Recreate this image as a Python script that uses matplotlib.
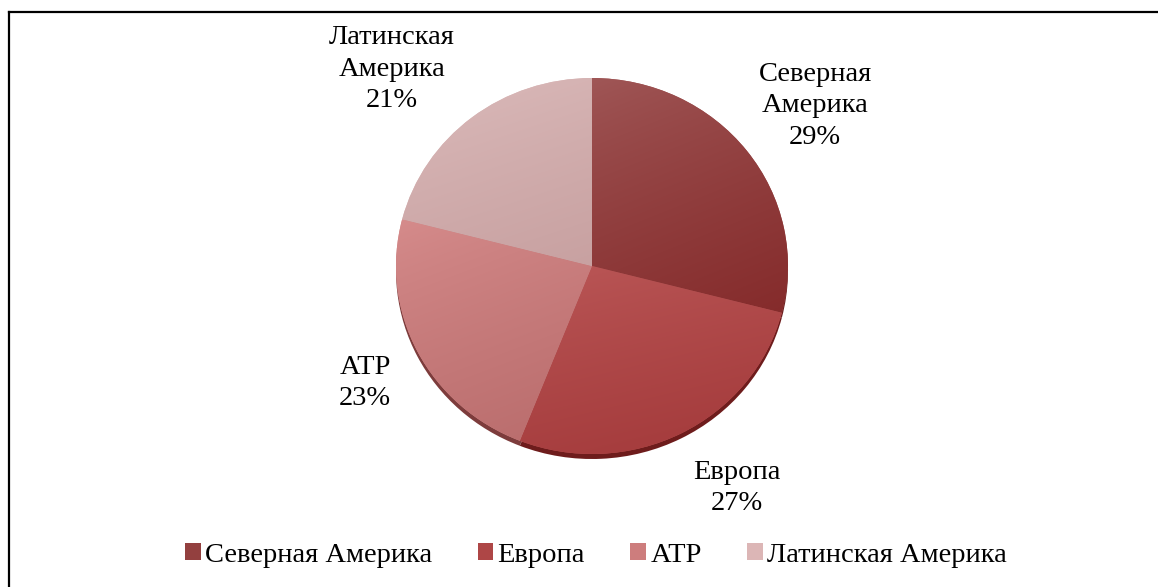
import numpy as np
import matplotlib
matplotlib.use("Agg")
import matplotlib.pyplot as plt
from matplotlib.patches import Patch
from matplotlib.lines import Line2D

# Regional shares
regions = ["Северная Америка", "Европа", "АТР", "Латинская Америка"]
shares = [29, 27, 23, 21]

# Fill colours: lighter (top-left) and darker (bottom-right) tones per region
light_tones = ["#a05757", "#bb5858", "#d68c8c", "#dcbcbc"]
dark_tones = ["#852b2b", "#a3393a", "#b96c6c", "#c8a1a1"]
rim_tones = ["#6c1f1f", "#6e1c1c", "#7d3c3c", "#8a5a5a"]
legend_tones = ["#93403f", "#ae4646", "#cd7d7d", "#dcb6b6"]

W, H, DPI = 1158, 587, 100
FS = 20.5
plt.rcParams["font.family"] = ["Liberation Serif", "DejaVu Serif"]

fig = plt.figure(figsize=(W / DPI, H / DPI), dpi=DPI)
ax = fig.add_axes([0, 0, 1, 1])

# Pie geometry in pixels (slightly flattened ellipse)
cx, cy = 592, 266
rx, ry = 196, 188

# Side rim: same slices shifted downward, drawn underneath
rim, _ = ax.pie(shares, startangle=90, counterclock=False, radius=1,
                center=(0, -5 / ry), colors=rim_tones,
                wedgeprops=dict(linewidth=0))
for w in rim:
    w.set_zorder(1)

wedges, _ = ax.pie(shares, startangle=90, counterclock=False, radius=1,
                   center=(0, 0), colors=light_tones,
                   wedgeprops=dict(linewidth=0))

ax.set_aspect("auto")
ax.axis("off")

# Gradient fill for each slice, clipped to its wedge
for w, c0, c1 in zip(wedges, light_tones, dark_tones):
    w.set_zorder(2)
    ext = w.get_path().get_extents()
    n = 200
    yy, xx = np.mgrid[0:1:n * 1j, 0:1:n * 1j]
    t = np.clip(0.75 * yy + 0.25 * xx, 0, 1) ** 0.8
    a = np.array(matplotlib.colors.to_rgb(c0))
    b = np.array(matplotlib.colors.to_rgb(c1))
    img = a[None, None, :] * (1 - t[..., None]) + b[None, None, :] * t[..., None]
    im = ax.imshow(img, extent=(ext.x0, ext.x1, ext.y0, ext.y1),
                   origin="upper", interpolation="bilinear", zorder=3,
                   aspect="auto")
    im.set_clip_path(w)

ax.set_xlim(-cx / rx, (W - cx) / rx)
ax.set_ylim(-(H - cy) / ry, cy / ry)

# Slice labels (pixel positions of the text centres)
label_pos = [(815, 106), (737, 488), (365, 383), (392, 69)]
for name, val, (px, py) in zip(regions, shares, label_pos):
    txt = name.replace(" ", "\n") + f"\n{val}%"
    fig.text(px / W, 1 - py / H, txt, ha="center", va="center",
             fontsize=FS, linespacing=1.32, color="black")

# Legend
handles = [Patch(facecolor=c, edgecolor="none") for c in legend_tones]
fig.legend(handles, regions, loc="center", ncol=4,
           bbox_to_anchor=(596 / W, 1 - 555 / H), frameon=False,
           fontsize=FS, handlelength=0.55, handleheight=0.55,
           handletextpad=0.15, columnspacing=1.6, borderpad=0)

# Outer frame (top and left edges)
fig.add_artist(Line2D([9 / W, 1.0], [1 - 12 / H, 1 - 12 / H],
                      transform=fig.transFigure, color="black", lw=1.6))
fig.add_artist(Line2D([9 / W, 9 / W], [0.0, 1 - 12 / H],
                      transform=fig.transFigure, color="black", lw=1.6))

fig.savefig("out.png", dpi=DPI, facecolor="white")
